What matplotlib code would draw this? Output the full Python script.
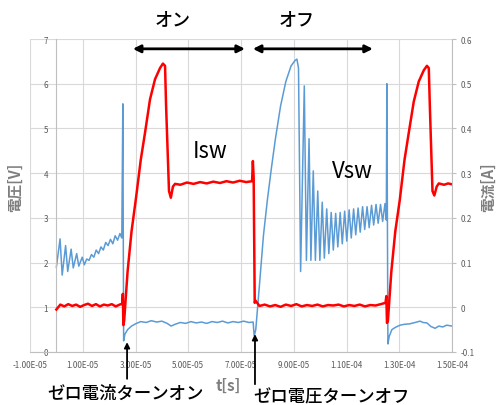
import matplotlib
matplotlib.use('Agg')
import matplotlib.pyplot as plt
from matplotlib.ticker import FuncFormatter
import numpy as np

plt.rcParams['font.family'] = ['Noto Sans CJK JP', 'DejaVu Sans']
plt.rcParams['axes.unicode_minus'] = False

# switch voltage Vsw [V] (left axis), time in microseconds
vsw_t = [0, 1.4, 2.2, 3.5, 4.3, 5.6, 6.4, 7.7, 8.5, 9.8, 10.6, 11.5, 12.4, 13.3, 14.2,
         15.1, 16.0, 16.9, 17.8, 18.7, 19.6, 20.5, 21.4, 22.3, 23.2, 24.1, 24.8,
         25.2, 25.5, 26.0, 27.0, 28.5, 30, 32, 34, 36, 38, 40, 42, 43.5, 45, 47, 49, 51,
         53, 55, 57, 59, 61, 63, 65, 67, 69, 71, 73, 74.6, 75.0, 75.6,
         77, 78.5, 80, 81.5, 83, 85, 87, 89, 90.5, 91.2, 91.8,
         92.6, 94.0, 94.8, 95.8, 96.5, 97.4, 98.2, 99.1, 99.9, 100.8, 101.6, 102.5, 103.3,
         104.2, 105.0, 105.9, 106.7, 107.6, 108.4, 109.3, 110.1, 111.0, 111.8, 112.7, 113.5,
         114.4, 115.2, 116.1, 116.9, 117.8, 118.6, 119.5, 120.3, 121.2, 122.0, 122.9, 123.7,
         124.6, 125.1,
         125.3, 125.7, 126.2, 127.2, 128.5, 130.3, 132, 134, 136, 137.9, 139, 140.5, 142,
         143.6, 145, 146.5, 148, 150]
vsw_v = [1.9, 2.53, 1.72, 2.38, 1.8, 2.3, 1.88, 2.2, 1.92, 2.12, 1.95, 2.08, 2.05, 2.18, 2.12,
         2.28, 2.2, 2.35, 2.28, 2.45, 2.38, 2.52, 2.42, 2.6, 2.5, 2.65, 2.55,
         5.55, 0.25, 0.4, 0.5, 0.58, 0.63, 0.68, 0.66, 0.7, 0.67, 0.69, 0.64, 0.58, 0.62, 0.66,
         0.64, 0.68, 0.65, 0.67, 0.64, 0.68, 0.66, 0.69, 0.65, 0.68, 0.66, 0.69, 0.66, 0.67,
         0.36, 0.5,
         1.5, 2.6, 3.4, 4.1, 4.75, 5.5, 6.05, 6.4, 6.52, 6.55, 6.35,
         1.8, 5.95, 2.05, 4.77, 2.05, 4.05, 2.05, 3.6, 2.05, 3.35, 2.1, 3.2, 2.2,
         3.12, 2.28, 3.1, 2.35, 3.12, 2.42, 3.15, 2.48, 3.18, 2.55, 3.2, 2.62,
         3.22, 2.68, 3.25, 2.74, 3.25, 2.78, 3.28, 2.84, 3.3, 2.88, 3.3, 2.92,
         3.32, 2.95,
         6.0, 0.18, 0.35, 0.5, 0.55, 0.6, 0.62, 0.63, 0.66, 0.69, 0.66, 0.65, 0.57,
         0.53, 0.58, 0.56, 0.6, 0.58]

# switch current Isw [A] (right axis), time in microseconds
isw_t = [0, 1.5, 3, 4.5, 6, 7.5, 9, 10.5, 12, 13.5, 15, 16.5, 18, 19.5, 21, 22.5, 24,
         25.0, 25.2, 25.4, 25.7,
         27, 28.5, 30.2, 32, 33.6, 35.5, 37.4, 39.3, 40.4, 41.2, 41.6, 42.7, 43.4, 44.2, 45,
         47, 49.5, 52, 54.5, 57, 59.5, 62, 64.5, 67, 69.5, 72, 74.2,
         74.5, 74.8, 75.2, 75.5,
         77, 79, 81, 83, 85, 87, 89, 91, 93, 95, 97, 99, 101, 103, 105, 107, 109, 111, 113,
         115, 117, 119, 121, 123,
         124.8, 125.1, 125.35, 125.7,
         127, 128.5, 130.2, 132, 133.6, 135.5, 137.4, 139.3, 140.5, 141.2, 141.6, 142.6,
         143.3, 144.2, 145, 147, 148.5, 150]
isw_a = [-0.005, 0.006, 0.002, 0.007, 0.003, 0.006, 0.001, 0.005, 0.008, 0.003, 0.007, 0.002,
         0.006, 0.004, 0.007, 0.002, 0.006,
         0.008, 0.03, -0.04, -0.03,
         0.08, 0.17, 0.245, 0.33, 0.39, 0.465, 0.51, 0.535, 0.545, 0.54, 0.45, 0.26, 0.245,
         0.27, 0.276,
         0.274, 0.279, 0.276, 0.28, 0.277, 0.281, 0.278, 0.282, 0.279, 0.283, 0.28, 0.282,
         0.327, 0.29, 0.01, 0.015,
         0.003, 0.006, 0.002, 0.005, 0.001, 0.006, 0.003, 0.007, 0.002, 0.005, 0.003, 0.006,
         0.002, 0.005, 0.004, 0.006, 0.002, 0.005, 0.003, 0.006, 0.002, 0.005, 0.004, 0.007,
         0.01, 0.025, -0.035, -0.03,
         0.08, 0.17, 0.24, 0.33, 0.39, 0.46, 0.505, 0.53, 0.54, 0.535, 0.45, 0.26,
         0.25, 0.27, 0.277, 0.274, 0.277, 0.275]

x_ticks = [-1.0e-5, 1.0e-5, 3.0e-5, 5.0e-5, 7.0e-5, 9.0e-5, 1.1e-4, 1.3e-4, 1.5e-4]
v_ticks = [0, 1, 2, 3, 4, 5, 6, 7]
i_ticks = [-0.1, 0, 0.1, 0.2, 0.3, 0.4, 0.5, 0.6]

W, H = 499, 406
fig = plt.figure(figsize=(W / 100, H / 100), dpi=100)
ax = fig.add_axes([30 / W, 1 - 353 / H, 422 / W, 313 / H])
ax2 = ax.twinx()

ax.plot(np.array(vsw_t) * 1e-6, vsw_v, color='#5B9BD5', lw=1.1)
ax2.plot(np.array(isw_t) * 1e-6, isw_a, color='#FF0000', lw=1.8)

ax.set_xlim(-1e-5, 1.5e-4)
ax.set_ylim(0, 7)
ax2.set_ylim(-0.1, 0.6)
ax.set_xticks(x_ticks)
ax.set_yticks(v_ticks)
ax2.set_yticks(i_ticks)
ax.xaxis.set_major_formatter(FuncFormatter(lambda v, p: f'{v:.2E}'))
ax2.yaxis.set_major_formatter(FuncFormatter(lambda v, p: f'{round(v, 1) + 0.0:g}'))

ax.grid(True, color='#D9D9D9', lw=0.8)
ax.set_axisbelow(True)

grey = '#BFBFBF'
ax.spines['left'].set_position(('data', 0))
ax.spines['left'].set_color(grey)
ax.spines['bottom'].set_color(grey)
ax.spines['top'].set_visible(False)
ax.spines['right'].set_visible(False)
for s in ['left', 'top', 'bottom']:
    ax2.spines[s].set_visible(False)
ax2.spines['right'].set_color(grey)

ax.tick_params(axis='x', length=0, labelsize=5.8, labelcolor='#595959', pad=6)
ax.tick_params(axis='y', length=0, labelsize=5.8, labelcolor='#595959', pad=6)
ax2.tick_params(axis='y', length=3, color=grey, labelsize=5.8, labelcolor='#595959', pad=3)

# on / off interval arrows
arr = dict(arrowstyle='<|-|>', color='black', lw=2, mutation_scale=11, shrinkA=0, shrinkB=0)
ax2.annotate('', xy=(71.5e-6, 0.578), xytext=(29e-6, 0.578), arrowprops=arr, annotation_clip=False)
ax2.annotate('', xy=(120e-6, 0.578), xytext=(74.5e-6, 0.578), arrowprops=arr, annotation_clip=False)

# zero current / zero voltage markers
up = dict(arrowstyle='-|>', color='black', lw=1.3, mutation_scale=8, shrinkA=0, shrinkB=0)
ax2.annotate('', xy=(26.8e-6, -0.078), xytext=(26.8e-6, -0.16), arrowprops=up, annotation_clip=False)
ax2.annotate('', xy=(75.3e-6, -0.06), xytext=(75.3e-6, -0.172), arrowprops=up, annotation_clip=False)

fig.text(173 / W, 1 - 20 / H, 'オン', ha='center', va='center', fontsize=13, fontweight='medium')
fig.text(297 / W, 1 - 20 / H, 'オフ', ha='center', va='center', fontsize=13, fontweight='medium')
fig.text(210 / W, 1 - 152 / H, 'Isw', ha='center', va='center', fontsize=16)
fig.text(352 / W, 1 - 172 / H, 'Vsw', ha='center', va='center', fontsize=16)
fig.text(125.5 / W, 1 - 394 / H, 'ゼロ電流ターンオン', ha='center', va='center', fontsize=12.5,
         fontweight='medium')
fig.text(331.5 / W, 1 - 397 / H, 'ゼロ電圧ターンオフ', ha='center', va='center', fontsize=12.5,
         fontweight='medium')
fig.text(228 / W, 1 - 386 / H, 't[s]', ha='center', va='center', fontsize=11,
         fontweight='bold', color='#7F7F7F')
fig.text(15 / W, 1 - 187 / H, '電圧[V]', ha='center', va='center', rotation=90,
         fontsize=10.5, fontweight='bold', color='#7F7F7F')
fig.text(488 / W, 1 - 187 / H, '電流[A]', ha='center', va='center', rotation=90,
         fontsize=10.5, fontweight='bold', color='#7F7F7F')

fig.savefig('out.png', dpi=100)
